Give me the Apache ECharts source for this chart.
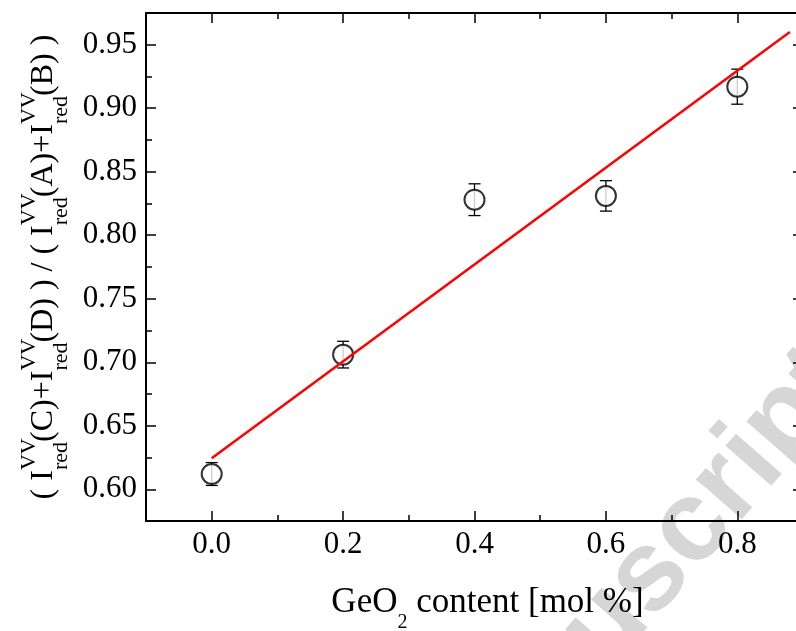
<!DOCTYPE html>
<html>
<head>
<meta charset="utf-8">
<script src="https://cdn.jsdelivr.net/npm/echarts@6/dist/echarts.min.js"></script>
<style>
  html, body { margin: 0; padding: 0; background: #fff; }
  #chart { width: 796px; height: 631px; }
</style>
</head>
<body>
<div id="chart"></div>
<script>
// ---- data ----
const geContent = [0.0, 0.2, 0.4, 0.6, 0.8];
const ratioValues = [0.612, 0.706, 0.828, 0.831, 0.917];
const ratioErrors = [0.009, 0.0105, 0.0125, 0.012, 0.0138];
const fitLineX = [0.0, 0.88];
const fitLineY = [0.6244, 0.960];
const xMajorTicks = [0.0, 0.2, 0.4, 0.6, 0.8];
const xMinorTicks = [-0.1, 0.1, 0.3, 0.5, 0.7];
const yMajorTicks = [0.60, 0.65, 0.70, 0.75, 0.80, 0.85, 0.90, 0.95];
const yMinorTicks = [0.575, 0.625, 0.675, 0.725, 0.775, 0.825, 0.875, 0.925];

const SERIF = '"Liberation Serif", "Times New Roman", serif';
const BLACK = '#000';

const points = geContent.map((x, i) => [x, ratioValues[i]]);
const errData = geContent.map((x, i) => [x, ratioValues[i], ratioErrors[i]]);
const fitData = fitLineX.map((x, i) => [x, fitLineY[i]]);

const chart = echarts.init(document.getElementById('chart'), null, { renderer: 'canvas' });

function xAx(pos, ticks, len, showLabel, showLine) {
  return {
    type: 'value', position: pos, min: -0.1, max: 0.9,
    axisLine: { show: showLine, onZero: false, lineStyle: { color: BLACK, width: 2 } },
    axisTick: { show: true, inside: true, length: len, customValues: ticks, lineStyle: { color: BLACK, width: 1.5 } },
    axisLabel: showLabel ? { show: true, customValues: ticks, margin: 8, color: BLACK, fontFamily: SERIF, fontSize: 31,
      formatter: v => v.toFixed(1) } : { show: false },
    splitLine: { show: false }
  };
}
function yAx(pos, ticks, len, showLabel, showLine) {
  return {
    type: 'value', position: pos, min: 0.575, max: 0.975,
    axisLine: { show: showLine, onZero: false, lineStyle: { color: BLACK, width: 2 } },
    axisTick: { show: true, inside: true, length: len, customValues: ticks, lineStyle: { color: BLACK, width: 1.5 } },
    axisLabel: showLabel ? { show: true, customValues: ticks, margin: 9, color: BLACK, fontFamily: SERIF, fontSize: 31,
      formatter: v => v.toFixed(2) } : { show: false },
    splitLine: { show: false }
  };
}

const xMain = xAx('bottom', xMajorTicks, 10, true, true);
xMain.name = '{n|GeO}{s|2}{n| content [mol %]}';
xMain.nameLocation = 'middle';
xMain.nameGap = 64;
xMain.nameTextStyle = {
  color: BLACK, fontFamily: SERIF, padding: [0, 0, 0, 26],
  rich: {
    n: { fontFamily: SERIF, fontSize: 35, color: BLACK, lineHeight: 40, verticalAlign: 'top', align: 'left' },
    s: { fontFamily: SERIF, fontSize: 20, color: BLACK, lineHeight: 20, verticalAlign: 'top', align: 'left', padding: [28, 0, 0, 0] }
  }
};

const yMain = yAx('left', yMajorTicks, 10, true, true);
yMain.name = '{p|( I}{sup|VV}{sub|red}{p|(C)+I}{sup|VV}{sub|red}{p|(D) ) / ( I}{sup|VV}{sub|red}{p|(A)+I}{sup|VV}{sub|red}{p|(B) )}';
yMain.nameLocation = 'middle';
yMain.nameRotate = 90;
yMain.nameGap = 85;
yMain.nameTextStyle = {
  color: BLACK, fontFamily: SERIF,
  rich: {
    p: { fontFamily: SERIF, fontSize: 32, color: BLACK, lineHeight: 40, verticalAlign: 'top', align: 'left', padding: [14, 0, 0, 0] },
    sup: { fontFamily: SERIF, fontSize: 22, color: BLACK, lineHeight: 20, verticalAlign: 'top', align: 'left', padding: [4, 0, 0, 0], width: 0 },
    sub: { fontFamily: SERIF, fontSize: 22, color: BLACK, lineHeight: 20, verticalAlign: 'top', align: 'left', padding: [36, 0, 0, 0] }
  }
};

chart.setOption({
  backgroundColor: '#fff',
  animation: false,
  graphic: [{
    type: 'text', z: -10, x: 431, y: 827, rotation: 0.853,
    style: { text: 'Manuscript', fill: '#d6d6d6', font: 'bold 115px "Liberation Sans", Arial, sans-serif',
      textVerticalAlign: 'middle', textAlign: 'left' }
  }],
  grid: { left: 146, top: 13, width: 657, height: 508, containLabel: false, outerBoundsMode: 'none' },
  xAxis: [
    xMain,
    xAx('bottom', xMinorTicks, 6, false, false),
    xAx('top', xMajorTicks, 10, false, true),
    xAx('top', xMinorTicks, 6, false, false)
  ],
  yAxis: [
    yMain,
    yAx('left', yMinorTicks, 6, false, false),
    yAx('right', yMajorTicks, 10, false, true),
    yAx('right', yMinorTicks, 6, false, false)
  ],
  series: [
    {
      type: 'custom', name: 'error', xAxisIndex: 0, yAxisIndex: 0, z: 3,
      data: errData,
      renderItem: function (params, api) {
        const x = api.value(0), y = api.value(1), e = api.value(2);
        const top = api.coord([x, y + e]);
        const bot = api.coord([x, y - e]);
        const cap = 6;
        const st = { stroke: BLACK, lineWidth: 1.3, fill: null };
        return {
          type: 'group',
          children: [
            { type: 'line', shape: { x1: top[0], y1: top[1], x2: bot[0], y2: bot[1] }, style: st },
            { type: 'line', shape: { x1: top[0] - cap, y1: top[1], x2: top[0] + cap, y2: top[1] }, style: st },
            { type: 'line', shape: { x1: bot[0] - cap, y1: bot[1], x2: bot[0] + cap, y2: bot[1] }, style: st }
          ]
        };
      }
    },
    {
      type: 'scatter', name: 'data', xAxisIndex: 0, yAxisIndex: 0, z: 4,
      data: points, symbol: 'circle', symbolSize: 20,
      itemStyle: { color: '#fff', borderColor: BLACK, borderWidth: 2 }
    },
    {
      type: 'line', name: 'fit', xAxisIndex: 0, yAxisIndex: 0, z: 5,
      data: fitData, showSymbol: false, symbol: 'none',
      lineStyle: { color: '#ff0000', width: 2.5 }
    }
  ]
});
</script>
</body>
</html>
